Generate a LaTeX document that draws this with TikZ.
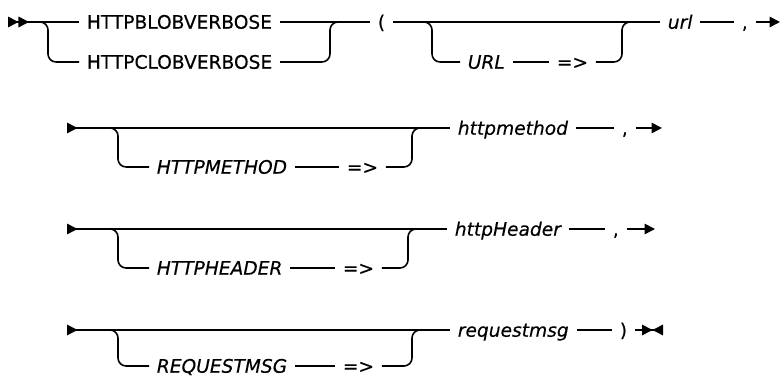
\documentclass[tikz,border=0pt]{standalone}
\usepackage{fontspec}
\setmainfont{DejaVu Sans}[FakeBold=0.3]
\usetikzlibrary{arrows.meta, positioning}

\begin{document}
\begin{tikzpicture}[
  x=0.02cm, y=-0.02cm,
  every node/.style={font=\fontsize{10.6}{12.7}\selectfont},
  tok/.style={anchor=west, inner xsep=0.15cm, inner ysep=0pt, text height=0.27cm, text depth=0pt},
  var/.style={tok, font=\fontsize{10.6}{12.7}\selectfont\itshape},
  rail/.style={line width=0.9pt, rounded corners=0.16cm},
  begin2/.style={{Triangle[reversed,length=0.21cm,width=0.21cm]Triangle[reversed,length=0.21cm,width=0.21cm]}-},
  begin1/.style={{Triangle[reversed,length=0.21cm,width=0.21cm]}-},
  goon/.style={-{Triangle[length=0.21cm,width=0.21cm]}},
  stop/.style={-{Triangle[length=0.21cm,width=0.21cm]Triangle[reversed,length=0.21cm,width=0.21cm]}}
]
  \useasboundingbox (0,0) rectangle (781,377);

  % row 1
  \coordinate (in1) at (8,22);
  \coordinate (sp1) at (40,22);
  \coordinate (mg1) at (330,22);
  \coordinate (sp2) at (424,22);
  \coordinate (mg2) at (622,22);
  \coordinate (out1) at (780,22);
  \node[tok] (blob)  at (79,22)  {HTTPBLOBVERBOSE};
  \node[tok] (clob)  at (79,62)  {HTTPCLOBVERBOSE};
  \node[tok] (lpar)  at (370,22) {(};
  \node[var] (urlkw) at (460,62) {URL};
  \node[tok] (eqa)   at (549,62) {=>};
  \node[var] (url)   at (660,22) {url};
  \node[tok] (coma)  at (734,22) {,};

  \draw[rail, begin2] (in1) -- (blob.west);
  \draw[rail] (sp1) -- ++(8,0) |- (clob.west);
  \draw[rail] (blob.east) -- (lpar.west);
  \draw[rail] (clob.east) -| (mg1) -- ++(8,0);
  \draw[rail] (lpar.east) -- (url.west);
  \draw[rail] (sp2) -- ++(8,0) |- (urlkw.west);
  \draw[rail] (urlkw.east) -- (eqa.west);
  \draw[rail] (eqa.east) -| (mg2) -- ++(8,0);
  \draw[rail] (url.east) -- (coma.west);
  \draw[rail, goon] (coma.east) -- (out1);

  % row 2
  \coordinate (in2) at (67,128);
  \coordinate (sp3) at (110,128);
  \coordinate (mg3) at (412,128);
  \coordinate (out2) at (662,128);
  \node[var] (methkw) at (149,167) {HTTPMETHOD};
  \node[tok] (eqb)    at (339,167) {=>};
  \node[var] (meth)   at (450,128) {httpmethod};
  \node[tok] (comb)   at (614,128) {,};

  \draw[rail, begin1] (in2) -- (meth.west);
  \draw[rail] (sp3) -- ++(8,0) |- (methkw.west);
  \draw[rail] (methkw.east) -- (eqb.west);
  \draw[rail] (eqb.east) -| (mg3) -- ++(8,0);
  \draw[rail] (meth.east) -- (comb.west);
  \draw[rail, goon] (comb.east) -- (out2);

  % row 3
  \coordinate (in3) at (67,229);
  \coordinate (sp4) at (110,229);
  \coordinate (mg4) at (408,229);
  \coordinate (out3) at (655,229);
  \node[var] (headkw) at (149,268) {HTTPHEADER};
  \node[tok] (eqc)    at (335,268) {=>};
  \node[var] (head)   at (447,229) {httpHeader};
  \node[tok] (comc)   at (605,229) {,};

  \draw[rail, begin1] (in3) -- (head.west);
  \draw[rail] (sp4) -- ++(8,0) |- (headkw.west);
  \draw[rail] (headkw.east) -- (eqc.west);
  \draw[rail] (eqc.east) -| (mg4) -- ++(8,0);
  \draw[rail] (head.east) -- (comc.west);
  \draw[rail, goon] (comc.east) -- (out3);

  % row 4
  \coordinate (in4) at (67,330);
  \coordinate (sp5) at (110,330);
  \coordinate (mg5) at (412,330);
  \coordinate (out4) at (663,330);
  \node[var] (reqkw) at (149,366) {REQUESTMSG};
  \node[tok] (eqd)   at (335,366) {=>};
  \node[var] (req)   at (450,330) {requestmsg};
  \node[tok] (rpar)  at (612,330) {)};

  \draw[rail, begin1] (in4) -- (req.west);
  \draw[rail] (sp5) -- ++(8,0) |- (reqkw.west);
  \draw[rail] (reqkw.east) -- (eqd.west);
  \draw[rail] (eqd.east) -| (mg5) -- ++(8,0);
  \draw[rail] (req.east) -- (rpar.west);
  \draw[rail, stop] (rpar.east) -- (out4);
\end{tikzpicture}
\end{document}
